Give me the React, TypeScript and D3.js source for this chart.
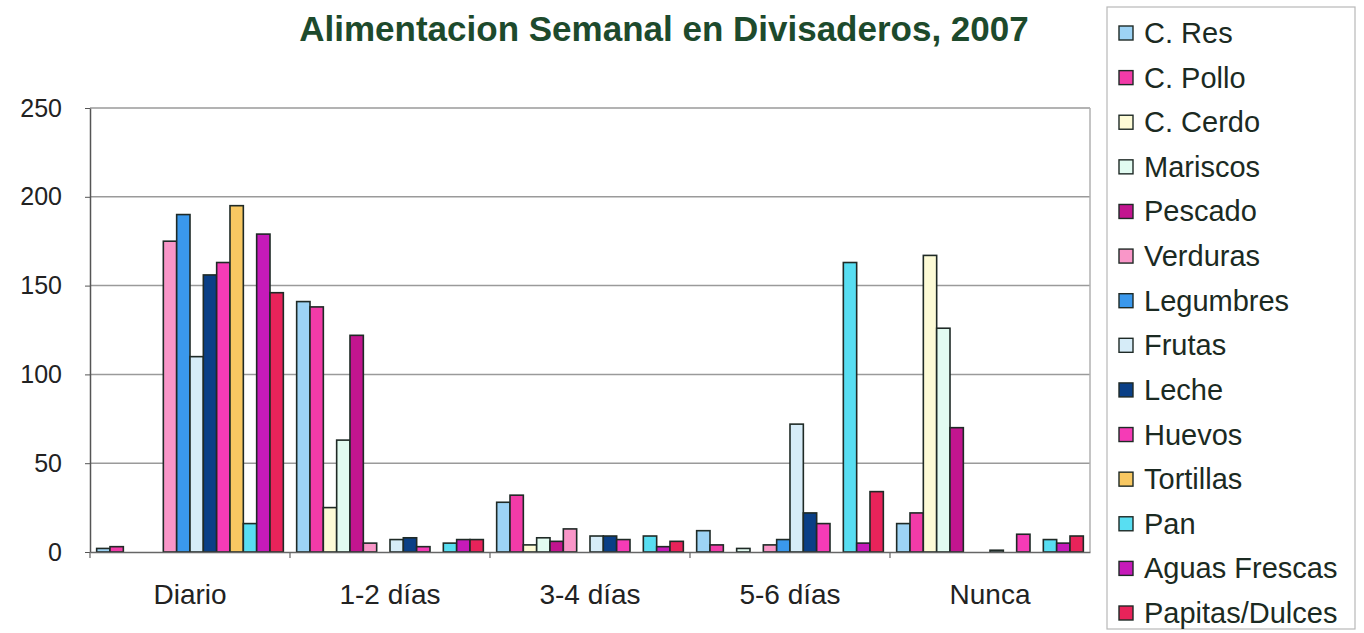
import React, { useEffect, useRef } from 'react';
import * as d3 from 'd3';

const categories = ['Diario', '1-2 días', '3-4 días', '5-6 días', 'Nunca'];

const series = [
  'C. Res', 'C. Pollo', 'C. Cerdo', 'Mariscos', 'Pescado', 'Verduras', 'Legumbres',
  'Frutas', 'Leche', 'Huevos', 'Tortillas', 'Pan', 'Aguas Frescas', 'Papitas/Dulces',
];

const colors = [
  '#9dd3f5', '#f23ba8', '#fdfbd6', '#e2fbf1', '#c2158f', '#f996c8', '#3a98ec',
  '#d6ecf8', '#0a3f86', '#f53bb6', '#f8c862', '#58def2', '#c61ab9', '#e8235a',
];

// values per series, in category order: Diario, 1-2, 3-4, 5-6, Nunca
const cRes = [2, 141, 28, 12, 16];
const cPollo = [3, 138, 32, 4, 22];
const cCerdo = [0, 25, 4, 0, 167];
const mariscos = [0, 63, 8, 2, 126];
const pescado = [0, 122, 6, 0, 70];
const verduras = [175, 5, 13, 4, 0];
const legumbres = [190, 0, 0, 7, 0];
const frutas = [110, 7, 9, 72, 1];
const leche = [156, 8, 9, 22, 0];
const huevos = [163, 3, 7, 16, 10];
const tortillas = [195, 0, 0, 0, 0];
const pan = [16, 5, 9, 163, 7];
const aguasFrescas = [179, 7, 3, 5, 5];
const papitas = [146, 7, 6, 34, 9];

const values = [
  cRes, cPollo, cCerdo, mariscos, pescado, verduras, legumbres,
  frutas, leche, huevos, tortillas, pan, aguasFrescas, papitas,
];

const yTicks = [0, 50, 100, 150, 200, 250];

const FONT = "'Liberation Sans', Arial, sans-serif";

export default function App() {
  const ref = useRef<SVGSVGElement | null>(null);

  useEffect(() => {
    const svg = d3.select(ref.current);
    svg.selectAll('*').remove();

    const left = 90, right = 1090, top = 108, bottom = 552;

    const x0 = d3.scaleBand().domain(categories).range([left, right]);
    const x1 = d3
      .scaleBand()
      .domain(series)
      .range([0, x0.bandwidth()])
      .paddingInner(0)
      .paddingOuter(0.5);
    const y = d3.scaleLinear().domain([0, 250]).range([bottom, top]);

    // grid
    svg
      .append('g')
      .selectAll('line')
      .data(yTicks.filter(d => d > 0))
      .enter()
      .append('line')
      .attr('x1', left)
      .attr('x2', right)
      .attr('y1', d => y(d))
      .attr('y2', d => y(d))
      .attr('stroke', '#9a9a9a')
      .attr('stroke-width', 1.5);

    // right border of plot area
    svg
      .append('line')
      .attr('x1', right)
      .attr('x2', right)
      .attr('y1', top)
      .attr('y2', bottom)
      .attr('stroke', '#b0b0b0')
      .attr('stroke-width', 1.5);

    // bars
    const groups = svg
      .append('g')
      .selectAll('g')
      .data(categories)
      .enter()
      .append('g')
      .attr('transform', d => `translate(${x0(d)},0)`);

    groups
      .selectAll('rect')
      .data((c, ci) => series.map((s, si) => ({ s, si, v: values[si][ci] })))
      .enter()
      .filter(d => d.v > 0)
      .append('rect')
      .attr('x', d => x1(d.s) as number)
      .attr('width', x1.bandwidth())
      .attr('y', d => y(d.v))
      .attr('height', d => y(0) - y(d.v))
      .attr('fill', d => colors[d.si])
      .attr('stroke', '#1f2a26')
      .attr('stroke-width', 1.6);

    // axes
    const yAxis = svg
      .append('g')
      .attr('transform', `translate(${left},0)`)
      .call(d3.axisLeft(y).tickValues(yTicks).tickSize(5).tickSizeOuter(0));
    yAxis.select('.domain').attr('stroke', '#555').attr('stroke-width', 1.5);
    yAxis.selectAll('.tick line').attr('stroke', '#555');
    yAxis
      .selectAll('.tick text')
      .attr('x', -28)
      .attr('font-size', 25)
      .attr('font-family', FONT)
      .attr('fill', '#222');

    const xAxis = svg
      .append('g')
      .attr('transform', `translate(0,${bottom})`)
      .call(d3.axisBottom(x0).tickSize(0).tickSizeOuter(0));
    xAxis.select('.domain').attr('stroke', '#666').attr('stroke-width', 1.5);
    xAxis
      .selectAll('.tick text')
      .attr('y', 32)
      .attr('font-size', 28)
      .attr('font-family', FONT)
      .attr('fill', '#222');

    // category separator ticks
    svg
      .append('g')
      .selectAll('line')
      .data(categories)
      .enter()
      .append('line')
      .attr('x1', d => x0(d) as number)
      .attr('x2', d => x0(d) as number)
      .attr('y1', bottom)
      .attr('y2', bottom + 6)
      .attr('stroke', '#666')
      .attr('stroke-width', 1.2);

    // title
    svg
      .append('text')
      .attr('x', 664)
      .attr('y', 41)
      .attr('text-anchor', 'middle')
      .attr('font-family', FONT)
      .attr('font-weight', 'bold')
      .attr('font-size', 35)
      .attr('fill', '#1d4a2c')
      .text('Alimentacion Semanal en Divisaderos, 2007');

    // legend
    const legend = svg.append('g');
    legend
      .append('rect')
      .attr('x', 1107)
      .attr('y', 7)
      .attr('width', 248)
      .attr('height', 622)
      .attr('fill', 'white')
      .attr('stroke', '#b8b8b8')
      .attr('stroke-width', 1.2);

    const ly = d3.scalePoint().domain(series).range([33, 613]);
    const items = legend
      .selectAll('g.item')
      .data(series)
      .enter()
      .append('g')
      .attr('class', 'item')
      .attr('transform', d => `translate(1119,${ly(d)})`);
    items
      .append('rect')
      .attr('x', 0)
      .attr('y', -7)
      .attr('width', 14)
      .attr('height', 14)
      .attr('fill', (d, i) => colors[i])
      .attr('stroke', '#1f2a26')
      .attr('stroke-width', 1.4);
    items
      .append('text')
      .attr('x', 25)
      .attr('y', 10)
      .attr('font-family', FONT)
      .attr('font-size', 29)
      .attr('fill', '#1b2a22')
      .text(d => d);
  }, []);

  return (
    <svg
      ref={ref}
      width={1364}
      height={633}
      style={{ position: 'absolute', left: 0, top: 0, background: 'white' }}
    />
  );
}
